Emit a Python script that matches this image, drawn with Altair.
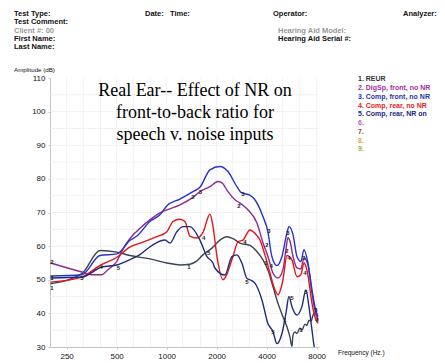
import altair as alt
import pandas as pd

# ---------------- data ----------------
series_names = ["1. REUR", "2. DigSp, front, no NR", "3. Comp, front, no NR",
                "4. Comp, rear, no NR", "5. Comp, rear, NR on"]
series_colors = ["#3b4650", "#8e2a92", "#2a32cc", "#e5141c", "#1f2c7c"]

reur_f = [200, 309, 397, 502, 601, 793, 1004, 1203, 1381, 1522, 1654, 1874, 2094, 2307, 2508,
          2763, 3170, 3497, 3800, 4070, 4366, 4679, 5014, 5300, 5525, 5680, 5760, 5922, 6090,
          6346, 6520, 6800, 6990, 7190, 7400, 7600, 7810, 8000, 8150]
reur_db = [48.8, 51.8, 58.7, 58.2, 57.2, 56.2, 55.0, 54.4, 54.6, 55.6, 57.4, 59.4, 61.8, 62.8, 62.2,
           60.9, 60.2, 58.4, 55.9, 52.9, 48.0, 43.0, 39.0, 36.0, 33.0, 30.2, 33.4, 34.5, 34.0,
           35.6, 35.0, 36.8, 36.4, 38.0, 37.6, 39.4, 40.2, 39.2, 38.4]

digsp_f = [200, 309, 355, 407, 443, 502, 538, 577, 627, 691, 793, 911, 1004, 1203, 1440, 1587,
           1823, 2036, 2153, 2340, 2578, 2763, 3086, 3497, 3800, 4070, 4366, 4679, 5014, 5227,
           5373, 5525, 5760, 6090, 6430, 6710, 6895, 7090, 7500, 7810, 8150]
digsp_db = [55.0, 52.3, 51.5, 51.5, 53.0, 55.5, 58.5, 61.0, 63.3, 65.3, 67.8, 69.9, 70.8, 72.3,
            74.5, 76.2, 77.7, 79.2, 78.8, 76.2, 73.8, 72.8, 70.8, 66.9, 61.0, 57.0, 52.0, 50.5,
            53.0, 59.0, 62.5, 61.5, 57.0, 53.5, 53.2, 56.5, 56.0, 54.5, 46.0, 41.0, 38.0]

cfront_f = [200, 309, 397, 502, 601, 662, 793, 911, 1004, 1203, 1440, 1587, 1823, 2094, 2340,
            2650, 2840, 3170, 3400, 3800, 4070, 4300, 4615, 4945, 5300, 5450, 5760, 6090, 6430,
            6710, 7090, 7500, 7810, 8150]
cfront_db = [51.1, 51.5, 57.2, 57.7, 61.7, 63.0, 67.3, 69.3, 72.0, 74.0, 76.2, 77.5, 82.7, 83.7,
             82.2, 77.7, 75.8, 75.2, 73.8, 68.8, 64.3, 56.9, 54.2, 56.9, 63.9, 65.8, 63.5, 56.9,
             55.4, 58.9, 55.0, 47.0, 42.0, 39.0]

crear_f = [200, 309, 397, 502, 601, 720, 874, 1004, 1091, 1203, 1289, 1381, 1522, 1654, 1823,
           1900, 2008, 2183, 2244, 2508, 2687, 2880, 3170, 3400, 3646, 3906, 4187, 4489, 4679,
           5014, 5300, 5450, 5680, 6090, 6430, 6710, 6895, 7090, 7500, 7810, 8150]
crear_db = [49.3, 50.8, 54.3, 56.7, 59.7, 61.2, 62.8, 64.3, 67.3, 68.0, 67.3, 63.0, 62.4, 64.0,
            69.5, 66.0, 57.0, 50.0, 50.5, 56.9, 61.3, 61.8, 64.8, 63.8, 61.8, 57.4, 52.0, 47.0,
            45.5, 50.0, 57.2, 57.0, 55.9, 50.9, 51.5, 55.0, 54.0, 51.4, 43.0, 39.0, 37.0]

cnr_f = [200, 309, 407, 502, 601, 691, 827, 977, 1047, 1153, 1254, 1381, 1587, 1748, 1900, 1953,
         2244, 2473, 2650, 2840, 3044, 3170, 3400, 3748, 4070, 4366, 4615, 4945, 5227, 5450,
         5680, 6090, 6520, 6895, 7190, 7500, 7710, 7900]
cnr_db = [50.5, 50.8, 53.8, 54.4, 56.0, 57.5, 60.4, 61.8, 60.9, 64.3, 65.8, 65.8, 61.8, 56.9,
          55.0, 53.5, 51.4, 56.9, 57.4, 54.9, 50.4, 50.0, 49.0, 44.0, 37.0, 34.6, 31.0, 34.0,
          40.0, 45.0, 42.0, 39.5, 42.0, 47.0, 42.0, 35.0, 30.5, 28.0]

# small curve-number markers drawn on the curves
mark_text = ["2", "3", "1", "3", "4", "5", "1", "2", "3", "4", "5", "2", "3", "4", "5", "1", "2",
             "3", "4", "3", "2", "4", "5", "5", "1", "1", "3", "4", "5", "3", "4"]
mark_f = [204, 204, 204, 309, 404, 512, 1362, 1440, 1600, 1670, 1790, 2720, 2880, 2960, 3044,
          3960, 4010, 4130, 4260, 5370, 5300, 5450, 4370, 5680, 5150, 6430, 6710, 6800, 6900,
          7920, 8030]
mark_db = [55.2, 50.4, 47.6, 50.6, 53.9, 53.4, 53.8, 74.6, 76.1, 62.4, 58.0, 72.0, 75.5, 61.3,
           49.3, 55.0, 60.4, 64.5, 54.1, 63.9, 58.6, 56.5, 34.5, 44.6, 38.0, 35.0, 56.5, 52.0,
           46.4, 41.0, 38.0]

legend_labels = ["1. REUR", "2. DigSp, front, no NR", "3. Comp, front, no NR",
                 "4. Comp, rear, no NR", "5. Comp, rear, NR on", "6.", "7.", "8.", "9."]
legend_colors = ["#333333", "#a0309a", "#2832b8", "#e01c1c", "#1c2a80",
                 "#d050d0", "#8c4a3c", "#f0a040", "#a8a838"]

x_ticks = [250, 500, 1000, 2000, 4000, 8000]
y_ticks = [30, 40, 50, 60, 70, 80, 90, 100, 110]
grid_f = [250, 315, 400, 500, 630, 800, 1000, 1250, 1600, 2000, 2500, 3150, 4000, 5000, 6300, 8000]
grid_db = [35, 40, 45, 50, 55, 60, 65, 70, 75, 80, 85, 90, 95, 100, 105]

# ---------------- build tables ----------------
rows = []
for name, fs, ds in zip(series_names,
                        [reur_f, digsp_f, cfront_f, crear_f, cnr_f],
                        [reur_db, digsp_db, cfront_db, crear_db, cnr_db]):
    for f, d in zip(fs, ds):
        rows.append({"series": name, "freq": f, "db": d})
df = pd.DataFrame(rows)
marks_df = pd.DataFrame({"t": mark_text, "freq": mark_f, "db": mark_db})

W, H = 269, 269
xscale = alt.Scale(type="log", domain=[198.6, 8265], nice=False)
yscale = alt.Scale(domain=[30, 110], nice=False, zero=False)
xaxis = alt.Axis(values=x_ticks, format="d", title=None, grid=False,
                 labelFont="Liberation Sans", labelFontSize=8, labelColor="#111",
                 domainColor="#c4c4c4", tickColor="#c4c4c4", tickSize=2,
                 labelPadding=3, labelFlush=False)
yaxis = alt.Axis(values=y_ticks, title=None, grid=False,
                 labelFont="Liberation Sans", labelFontSize=8, labelColor="#111",
                 domainColor="#c4c4c4", tickColor="#c4c4c4", tickSize=2,
                 labelPadding=3)
xenc = alt.X("freq:Q", scale=xscale, axis=xaxis)
yenc = alt.Y("db:Q", scale=yscale, axis=yaxis)

gridx = alt.Chart(pd.DataFrame({"freq": grid_f})).mark_rule(
    color="#ededed", strokeWidth=0.8).encode(x=xenc)
gridy = alt.Chart(pd.DataFrame({"db": grid_db})).mark_rule(
    color="#ededed", strokeWidth=0.8).encode(y=yenc)

lines = alt.Chart(df).mark_line(strokeWidth=1.4, interpolate="monotone", clip=True).encode(
    x=xenc,
    y=yenc,
    color=alt.Color("series:N", scale=alt.Scale(domain=series_names, range=series_colors),
                    legend=None),
    detail="series:N",
)

nums = alt.Chart(marks_df).mark_text(fontSize=6, fontWeight="bold", color="#222",
                                     font="Liberation Sans", clip=True).encode(
    x=xenc, y=yenc, text="t:N",
)


def txt(s, x, y, size=7.5, weight="bold", color="#111", font="Liberation Sans", align="left",
        opacity=1.0):
    return alt.Chart(pd.DataFrame({"t": [s]})).mark_text(
        align=align, baseline="middle", fontSize=size, fontWeight=weight, color=color, font=font,
        opacity=opacity
    ).encode(x=alt.value(x), y=alt.value(y), text="t:N")


# plot area origin sits at page (50, 78)
texts = [
    txt("Test Type:", -36, -64),
    txt("Test Comment:", -36, -56),
    txt("Client #: 00", -36, -47, opacity=0.45),
    txt("First Name:", -36, -39),
    txt("Last Name:", -36, -31),
    txt("Date:", 95, -64),
    txt("Time:", 120, -64),
    txt("Operator:", 223, -64),
    txt("Analyzer:", 353, -64),
    txt("Hearing Aid Model:", 228, -47, opacity=0.45),
    txt("Hearing Aid Serial #:", 228, -39),
    txt("Amplitude (dB)", -36, -8, size=6.2, weight="normal"),
    txt("Frequency (Hz.)", 288, 275, size=6.5, weight="normal"),
    txt("Real Ear-- Effect of NR on", 145, 12.7, size=18, weight="normal", color="#000",
        font="Liberation Serif", align="center"),
    txt("front-to-back ratio for", 145, 35, size=18, weight="normal", color="#000",
        font="Liberation Serif", align="center"),
    txt("speech v. noise inputs", 145, 56.5, size=18, weight="normal", color="#000",
        font="Liberation Serif", align="center"),
]
for i, (lab, col) in enumerate(zip(legend_labels, legend_colors)):
    texts.append(txt(lab, 308, 1.3 + i * 8.75, size=7, color=col))

chart = alt.layer(gridx, gridy, lines, nums, *texts).properties(
    width=W, height=H,
    autosize=alt.AutoSizeParams(type="none"),
    padding={"left": 42, "top": 70, "right": 118, "bottom": 13},
    background="white",
).configure_view(stroke=None)

chart.save("out.html", embed_options={"renderer": "svg", "actions": False})
